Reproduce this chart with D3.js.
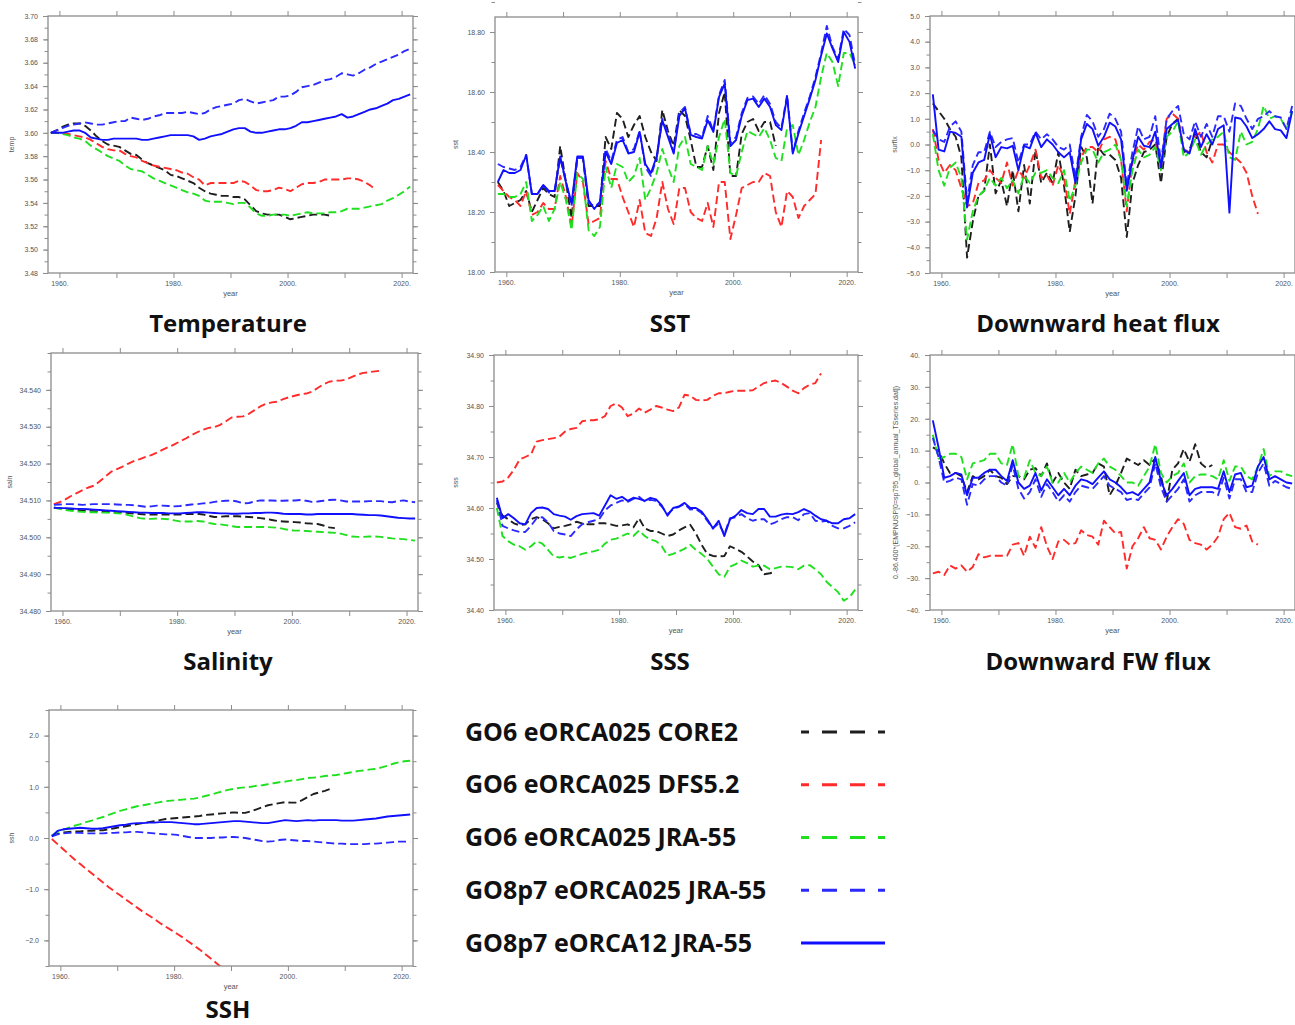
<!DOCTYPE html>
<html>
<head>
<meta charset="utf-8">
<script src="https://cdn.jsdelivr.net/npm/d3@7"></script>
<style>
  body { margin: 0; background: #fff; }
  svg { display: block; }
</style>
</head>
<body>
<script>
var WIDTH = 1295
  , HEIGHT = 1025

// annual means, one value per year from 1958
var years = [1958, 1959, 1960, 1961, 1962, 1963, 1964, 1965, 1966, 1967,
  1968, 1969, 1970, 1971, 1972, 1973, 1974, 1975, 1976, 1977,
  1978, 1979, 1980, 1981, 1982, 1983, 1984, 1985, 1986, 1987,
  1988, 1989, 1990, 1991, 1992, 1993, 1994, 1995, 1996, 1997,
  1998, 1999, 2000, 2001, 2002, 2003, 2004, 2005, 2006, 2007,
  2008, 2009, 2010, 2011, 2012, 2013, 2014, 2015, 2016, 2017,
  2018, 2019, 2020, 2021]

var yearDomain = [1958, 2022]
  , yearTicks = [1960, 1970, 1980, 1990, 2000, 2010, 2020]
  , yearLabels = [1960, 1980, 2000, 2020]

var seriesNames = ['GO6 eORCA025 CORE2', 'GO6 eORCA025 DFS5.2', 'GO6 eORCA025 JRA-55',
  'GO8p7 eORCA025 JRA-55', 'GO8p7 eORCA12 JRA-55']

var panelTitles = ['Temperature', 'SST', 'Downward heat flux', 'Salinity', 'SSS', 'Downward FW flux', 'SSH']
  , yTitles = ['temp', 'sst', 'surflx', 'saln', 'sss',
      '0.-86.400*(EMPNUSP[0=sp795_global_annual_TSseries.dat])', 'ssh']

// y tick labels per panel
var tempTicks = [3.48, 3.50, 3.52, 3.54, 3.56, 3.58, 3.60, 3.62, 3.64, 3.66, 3.68, 3.70]
  , sstTicks = [18.00, 18.20, 18.40, 18.60, 18.80]
  , heatTicks = [-5, -4, -3, -2, -1, 0, 1, 2, 3, 4, 5]
  , salnTicks = [34.48, 34.49, 34.50, 34.51, 34.52, 34.53, 34.54]
  , sssTicks = [34.40, 34.50, 34.60, 34.70, 34.80, 34.90]
  , fwTicks = [-40, -30, -20, -10, 0, 10, 20, 30, 40]
  , sshTicks = [-2, -1, 0, 1, 2]

// ---- Temperature
var tempCore2 = [3.600,3.602,3.605,3.607,3.608,3.608,3.606,3.602,3.597,3.593,
  3.590,3.589,3.588,3.585,3.582,3.581,3.577,3.574,3.572,3.570,
  3.568,3.564,3.563,3.561,3.559,3.557,3.553,3.550,3.548,3.547,
  3.546,3.546,3.545,3.545,3.543,3.538,3.533,3.531,3.530,3.530,
  3.530,3.528,3.526,3.527,3.528,3.529,3.530,3.530,3.530,3.529]
var tempDfs = [3.600,3.600,3.600,3.599,3.598,3.597,3.596,3.594,3.591,3.588,
  3.586,3.585,3.585,3.582,3.580,3.579,3.576,3.574,3.572,3.571,
  3.570,3.569,3.568,3.566,3.565,3.562,3.560,3.555,3.557,3.557,
  3.557,3.557,3.557,3.559,3.558,3.555,3.551,3.550,3.550,3.551,
  3.553,3.552,3.550,3.553,3.556,3.557,3.557,3.558,3.560,3.560,
  3.560,3.560,3.561,3.561,3.560,3.558,3.555,3.551]
var tempJra = [3.600,3.600,3.599,3.598,3.596,3.595,3.593,3.589,3.586,3.583,
  3.580,3.578,3.576,3.572,3.569,3.568,3.567,3.564,3.561,3.559,
  3.557,3.555,3.553,3.551,3.549,3.548,3.546,3.542,3.541,3.541,
  3.541,3.540,3.539,3.540,3.540,3.536,3.531,3.529,3.529,3.530,
  3.530,3.530,3.529,3.530,3.531,3.532,3.531,3.531,3.531,3.532,
  3.532,3.533,3.535,3.535,3.535,3.536,3.537,3.538,3.539,3.542,
  3.544,3.547,3.550,3.554]
var tempG8025 = [3.600,3.602,3.604,3.606,3.607,3.608,3.609,3.608,3.607,3.607,
  3.608,3.609,3.610,3.610,3.613,3.612,3.611,3.612,3.614,3.615,
  3.617,3.617,3.617,3.617,3.618,3.617,3.616,3.617,3.620,3.622,
  3.623,3.624,3.625,3.628,3.629,3.627,3.625,3.626,3.627,3.628,
  3.631,3.631,3.632,3.635,3.639,3.640,3.641,3.643,3.645,3.646,
  3.648,3.651,3.650,3.649,3.651,3.654,3.656,3.659,3.661,3.663,
  3.665,3.667,3.670,3.672]
var tempG812 = [3.600,3.600,3.600,3.601,3.602,3.602,3.600,3.596,3.595,3.594,
  3.594,3.595,3.595,3.595,3.595,3.595,3.594,3.594,3.595,3.596,
  3.597,3.598,3.598,3.598,3.598,3.597,3.594,3.595,3.597,3.598,
  3.599,3.601,3.603,3.604,3.604,3.601,3.600,3.600,3.601,3.602,
  3.603,3.603,3.604,3.606,3.609,3.609,3.610,3.611,3.612,3.613,
  3.614,3.616,3.613,3.614,3.616,3.618,3.620,3.621,3.623,3.625,
  3.628,3.629,3.631,3.633]

// ---- SST
var sstCore2 = [18.30,18.27,18.22,18.23,18.24,18.27,18.20,18.24,18.28,18.26,
  18.25,18.42,18.30,18.18,18.38,18.38,18.22,18.22,18.22,18.45,
  18.41,18.53,18.51,18.45,18.49,18.52,18.45,18.40,18.37,18.54,
  18.47,18.42,18.54,18.52,18.44,18.35,18.35,18.42,18.34,18.53,
  18.60,18.32,18.32,18.46,18.50,18.51,18.47,18.50,18.50,18.42]
var sstDfs = [18.29,18.27,18.25,18.24,18.22,18.27,18.19,18.20,18.23,18.21,
  18.21,18.32,18.25,18.15,18.33,18.30,18.16,18.17,18.18,18.37,
  18.31,18.31,18.25,18.20,18.15,18.24,18.13,18.12,18.18,18.30,
  18.21,18.16,18.28,18.28,18.20,18.18,18.17,18.23,18.15,18.30,
  18.30,18.11,18.19,18.28,18.29,18.30,18.30,18.33,18.32,18.20,
  18.15,18.27,18.25,18.18,18.22,18.24,18.26,18.44]
var sstJra = [18.26,18.26,18.25,18.25,18.26,18.30,18.17,18.19,18.22,18.17,
  18.21,18.30,18.24,18.14,18.33,18.31,18.14,18.12,18.15,18.35,
  18.28,18.36,18.35,18.30,18.32,18.38,18.24,18.28,18.33,18.41,
  18.35,18.30,18.42,18.45,18.36,18.35,18.34,18.42,18.36,18.45,
  18.51,18.33,18.32,18.40,18.47,18.46,18.45,18.48,18.44,18.38,
  18.37,18.48,18.49,18.39,18.44,18.50,18.55,18.65,18.73,18.70,
  18.62,18.73,18.73,18.69]
var sstG8025 = [18.36,18.35,18.345,18.34,18.35,18.39,18.26,18.26,18.29,18.265,
  18.27,18.38,18.30,18.22,18.38,18.38,18.23,18.22,18.23,18.41,
  18.37,18.44,18.45,18.40,18.41,18.47,18.35,18.32,18.38,18.51,
  18.46,18.40,18.53,18.55,18.46,18.46,18.45,18.52,18.47,18.59,
  18.64,18.43,18.45,18.53,18.58,18.585,18.56,18.59,18.56,18.50,
  18.48,18.59,18.40,18.47,18.53,18.585,18.65,18.73,18.82,18.75,
  18.71,18.81,18.79,18.69]
var sstG812 = [18.30,18.34,18.33,18.33,18.34,18.39,18.26,18.26,18.29,18.27,
  18.27,18.385,18.30,18.23,18.385,18.385,18.24,18.21,18.235,18.40,
  18.36,18.43,18.44,18.395,18.40,18.467,18.36,18.33,18.385,18.506,
  18.45,18.395,18.52,18.545,18.457,18.45,18.445,18.506,18.467,18.584,
  18.628,18.42,18.44,18.52,18.573,18.578,18.55,18.578,18.55,18.49,
  18.473,18.584,18.395,18.462,18.52,18.578,18.64,18.722,18.795,18.745,
  18.70,18.80,18.767,18.678]

// ---- Downward heat flux
var heatCore2 = [1.6,1.3,1.0,0.6,0.3,-0.5,-4.4,-3.0,-2.0,-1.8,
  0.0,-1.9,-1.4,-2.4,-1.0,-2.6,-0.8,-2.3,-0.2,-1.5,
  -1.1,-1.5,-0.3,-1.6,-3.4,-2.0,-0.1,-0.5,-2.3,-0.1,
  -0.4,-0.4,-0.6,-1.3,-3.6,-1.5,-0.8,-0.3,-0.2,0.0,
  -1.5,0.3,0.8,1.0,-0.3,-0.2,0.4,-0.3,-0.5,0.2]
var heatDfs = [0.6,-0.6,-1.1,-0.8,-1.0,-1.7,-2.4,-2.3,-1.5,-1.4,
  -1.0,-1.3,-1.5,-0.7,-1.6,-1.0,-1.3,-0.8,-0.2,-1.3,
  -1.2,-1.6,-0.8,-1.3,-2.7,-1.4,-0.5,-0.1,-0.1,-0.3,
  0.2,0.3,0.2,-0.6,-2.6,-0.7,0.0,-0.2,0.1,0.2,
  -0.9,1.0,1.2,1.0,-0.2,-0.3,0.3,0.5,-0.3,-0.7,
  0.0,0.0,-0.3,-0.5,-0.7,-1.1,-2.0,-2.7]
var heatJra = [0.4,-1.0,-1.6,-0.9,-0.7,-1.3,-3.7,-2.6,-2.0,-1.8,
  -1.3,-1.6,-1.3,-1.7,-1.4,-1.9,-1.2,-1.5,-1.1,-1.1,
  -1.0,-1.3,-1.5,-1.0,-2.2,-1.6,-0.7,-0.2,-0.2,-0.7,
  -0.3,-0.2,0.0,-0.6,-2.4,-1.0,-0.2,-0.5,-0.4,-0.1,
  -1.0,0.3,0.5,0.9,-0.5,-0.3,0.2,-0.4,0.0,0.2,
  0.3,0.5,-0.5,-0.6,0.5,0.0,0.1,0.6,1.5,1.0,
  1.1,1.0,0.6,1.3]
var heatG8025 = [0.55,0.2,0.1,0.7,0.9,0.5,-2.2,-0.8,-0.3,-0.3,
  0.5,-0.1,0.1,0.2,0.25,-0.7,0.0,0.0,0.5,0.2,
  0.4,0.2,-0.1,-0.2,0.0,-1.3,0.3,1.15,0.9,0.3,
  0.6,1.2,1.0,0.5,-1.6,-0.3,0.7,0.2,0.3,1.1,
  -0.7,1.0,1.3,1.5,0.4,0.2,0.9,0.3,0.8,0.3,
  1.1,1.1,0.5,1.6,1.5,1.0,0.6,1.0,1.1,1.3,
  1.1,1.05,0.6,1.5]
var heatG812 = [1.95,-0.2,-0.27,0.5,0.45,0.3,-2.45,-1.1,-0.7,-0.6,
  0.4,-0.5,-0.1,-0.15,-0.05,-1.0,-0.05,-0.15,0.45,-0.1,
  0.2,0.0,-0.3,-0.5,-0.3,-1.5,0.2,0.8,0.6,-0.05,
  0.3,0.85,0.7,0.2,-1.8,-0.6,0.3,-0.05,-0.1,0.5,
  -0.9,0.6,0.8,0.95,-0.2,-0.35,0.6,-0.1,0.4,0.0,
  0.6,0.75,-2.65,1.05,1.0,0.7,0.25,0.4,0.6,0.9,
  0.6,0.55,0.25,1.3]

// ---- Salinity
var salnCore2 = [34.5080,34.5079,34.5078,34.5076,34.5074,34.5073,34.5072,34.5071,34.5070,34.5070,
  34.5069,34.5069,34.5068,34.5066,34.5064,34.5063,34.5062,34.5062,34.5062,34.5062,
  34.5062,34.5062,34.5062,34.5063,34.5063,34.5064,34.5062,34.5058,34.5055,34.5056,
  34.5057,34.5057,34.5057,34.5056,34.5055,34.5054,34.5052,34.5050,34.5047,34.5044,
  34.5043,34.5042,34.5041,34.5040,34.5038,34.5037,34.5036,34.5032,34.5027,34.5025]
var salnDfs = [34.5090,34.5095,34.5103,34.5112,34.5120,34.5128,34.5135,34.5140,34.5152,34.5165,
  34.5178,34.5185,34.5192,34.5200,34.5207,34.5212,34.5218,34.5223,34.5230,34.5238,
  34.5245,34.5252,34.5260,34.5268,34.5277,34.5285,34.5292,34.5297,34.5299,34.5305,
  34.5315,34.5325,34.5327,34.5328,34.5335,34.5345,34.5355,34.5362,34.5366,34.5368,
  34.5375,34.5380,34.5384,34.5388,34.5390,34.5395,34.5405,34.5415,34.5422,34.5425,
  34.5425,34.5428,34.5435,34.5442,34.5446,34.5448,34.5450,34.5452]
var salnJra = [34.5080,34.5077,34.5074,34.5072,34.5070,34.5069,34.5068,34.5068,34.5067,34.5067,
  34.5066,34.5065,34.5064,34.5060,34.5056,34.5052,34.5050,34.5050,34.5051,34.5050,
  34.5049,34.5046,34.5043,34.5043,34.5043,34.5044,34.5043,34.5039,34.5036,34.5035,
  34.5033,34.5030,34.5028,34.5028,34.5028,34.5028,34.5028,34.5028,34.5027,34.5026,
  34.5023,34.5020,34.5018,34.5018,34.5017,34.5016,34.5015,34.5014,34.5013,34.5012,
  34.5010,34.5006,34.5002,34.5001,34.5001,34.5002,34.5002,34.5001,34.4999,34.4997,
  34.4996,34.4995,34.4993,34.4991]
var salnG8025 = [34.5088,34.5089,34.5090,34.5090,34.5089,34.5088,34.5089,34.5090,34.5090,34.5090,
  34.5090,34.5089,34.5088,34.5088,34.5087,34.5085,34.5083,34.5084,34.5086,34.5086,
  34.5085,34.5084,34.5085,34.5087,34.5089,34.5090,34.5092,34.5093,34.5096,34.5098,
  34.5099,34.5100,34.5097,34.5092,34.5093,34.5097,34.5100,34.5100,34.5100,34.5099,
  34.5099,34.5100,34.5100,34.5101,34.5099,34.5096,34.5097,34.5099,34.5101,34.5102,
  34.5100,34.5097,34.5097,34.5097,34.5097,34.5098,34.5098,34.5098,34.5096,34.5095,
  34.5098,34.5100,34.5097,34.5095]
var salnG812 = [34.5080,34.5079,34.5079,34.5078,34.5077,34.5077,34.5076,34.5075,34.5074,34.5073,
  34.5072,34.5071,34.5070,34.5069,34.5068,34.5067,34.5067,34.5066,34.5066,34.5066,
  34.5065,34.5065,34.5065,34.5066,34.5067,34.5068,34.5068,34.5067,34.5066,34.5065,
  34.5065,34.5064,34.5064,34.5065,34.5065,34.5066,34.5066,34.5067,34.5067,34.5066,
  34.5064,34.5063,34.5063,34.5063,34.5062,34.5062,34.5063,34.5063,34.5063,34.5063,
  34.5063,34.5063,34.5063,34.5062,34.5061,34.5060,34.5060,34.5059,34.5057,34.5055,
  34.5053,34.5052,34.5051,34.5051]

// ---- SSS
var sssCore2 = [34.610,34.585,34.578,34.570,34.566,34.568,34.578,34.582,34.578,34.570,
  34.560,34.563,34.565,34.568,34.573,34.570,34.568,34.568,34.570,34.570,
  34.568,34.565,34.566,34.568,34.562,34.580,34.560,34.555,34.555,34.550,
  34.545,34.548,34.556,34.562,34.567,34.550,34.528,34.510,34.506,34.505,
  34.506,34.525,34.520,34.514,34.505,34.495,34.488,34.470,34.472,34.475]
var sssDfs = [34.650,34.652,34.660,34.675,34.695,34.700,34.705,34.730,34.733,34.735,
  34.737,34.740,34.750,34.755,34.757,34.770,34.772,34.772,34.774,34.780,
  34.800,34.805,34.797,34.780,34.785,34.795,34.787,34.793,34.800,34.797,
  34.793,34.790,34.797,34.822,34.820,34.812,34.811,34.812,34.820,34.825,
  34.825,34.828,34.830,34.830,34.830,34.831,34.838,34.845,34.848,34.850,
  34.845,34.838,34.830,34.825,34.835,34.842,34.845,34.864]
var sssJra = [34.600,34.545,34.535,34.528,34.525,34.518,34.525,34.535,34.530,34.518,
  34.505,34.503,34.505,34.502,34.506,34.510,34.513,34.515,34.518,34.530,
  34.538,34.540,34.545,34.550,34.545,34.556,34.545,34.538,34.535,34.525,
  34.507,34.510,34.515,34.520,34.528,34.518,34.510,34.500,34.485,34.470,
  34.465,34.485,34.490,34.497,34.492,34.485,34.487,34.487,34.480,34.482,
  34.485,34.485,34.484,34.480,34.487,34.488,34.480,34.470,34.455,34.445,
  34.435,34.418,34.425,34.440]
var sssG8025 = [34.615,34.565,34.560,34.556,34.553,34.553,34.565,34.580,34.582,34.572,
  34.555,34.550,34.548,34.545,34.558,34.568,34.572,34.575,34.578,34.595,
  34.605,34.610,34.615,34.612,34.618,34.622,34.613,34.616,34.614,34.603,
  34.588,34.598,34.602,34.608,34.597,34.598,34.590,34.575,34.560,34.570,
  34.548,34.580,34.582,34.588,34.580,34.575,34.578,34.578,34.568,34.572,
  34.578,34.582,34.582,34.576,34.588,34.590,34.575,34.573,34.575,34.565,
  34.560,34.560,34.565,34.572]
var sssG812 = [34.620,34.580,34.588,34.580,34.570,34.568,34.590,34.600,34.601,34.598,
  34.588,34.585,34.583,34.577,34.584,34.588,34.589,34.590,34.585,34.605,
  34.625,34.618,34.622,34.614,34.620,34.618,34.614,34.620,34.617,34.605,
  34.585,34.600,34.603,34.610,34.600,34.600,34.593,34.578,34.560,34.575,
  34.545,34.578,34.585,34.596,34.590,34.588,34.598,34.598,34.583,34.583,
  34.587,34.589,34.588,34.592,34.598,34.593,34.585,34.578,34.575,34.570,
  34.570,34.578,34.580,34.588]

// ---- Downward FW flux
var fwCore2 = [11,10,6,3,3,2,-3,2,1,2,
  4,2,1.5,-0.5,2,2,1,4,4.5,2,
  6,0,3,0,-2,4,2,2.5,3,6,
  5,-4,-1,3,7.5,6.5,5.5,7,5.5,7.5,
  2,-6,4,6,10.5,6.5,12,6,4.5,5.5]
var fwDfs = [-28.5,-28,-29,-26,-27,-26,-28,-26.5,-22.5,-23.5,
  -23,-23,-23,-23,-19.5,-19,-23,-17,-20.5,-14,
  -20,-24,-18.5,-18,-19.5,-19,-15,-16.5,-17,-19.5,
  -12,-14,-16,-15.5,-27,-20,-17.5,-14,-17.5,-18,
  -21,-17,-14,-11.5,-13,-18,-19,-19.5,-21,-19.5,
  -17,-11.5,-9.5,-14,-14.5,-13.5,-18.5,-19.5]
var fwJra = [15,7.5,8,9,9,8,1,6,6.5,7,
  9,9,6,5.5,12,2,1.5,7,3,2,
  5,0,0,3,0,3,5,4,3,6,
  7.5,5,4,2,0,0,-1,2,5,12,
  3,0,2,3,6,0,2,2.5,2.5,2,
  1,7,0.5,5,5,2,1,5,10.5,2,
  3.5,3.5,2.5,2]
var fwG8025 = [14,8,0,0.5,1.5,1,-7,-0.5,-1,1,
  2,2,0,-1,5.5,-2,-5,-3,1,-4.5,
  -0.5,-3,-6,-4,-6,-3,-1,-1.5,-2,0,
  2,-1,-2,-3,-5.5,-5,-5.5,-3.5,-1.5,6,
  -1.5,-6,-4,-2,1,-6,-4,-3,-3,-3,
  -4,1.5,-5,1,1,-3,-3,3,6,-1,
  0.5,-0.5,-1.5,-2]
var fwG812 = [19.5,11,1.5,2,3,2.5,-4,1.5,1.5,3,
  4,4,2,0.5,7,0,-2,-1,3,-2.5,
  1,-1.5,-4,-2,-4,-1,1,0.5,-0.5,1.5,
  3.5,1,0,-1.5,-3.5,-3,-4,-2,0,8,
  0.5,-4,-2,0.5,3,-4,-2,-1.5,-1.5,-1.5,
  -2,3.5,-3,2.5,3,-1.5,-1,5,8,1,
  2,1,0,-0.3]

// ---- SSH
var sshCore2 = [0.05,0.08,0.11,0.12,0.13,0.13,0.14,0.14,0.15,0.15,
  0.17,0.19,0.21,0.23,0.25,0.27,0.29,0.31,0.33,0.35,
  0.37,0.38,0.39,0.40,0.41,0.42,0.43,0.45,0.46,0.47,
  0.48,0.49,0.50,0.49,0.49,0.52,0.56,0.60,0.64,0.66,
  0.68,0.70,0.69,0.69,0.74,0.80,0.86,0.89,0.92,0.96]
var sshDfs = [-0.02,-0.12,-0.22,-0.32,-0.42,-0.51,-0.60,-0.69,-0.78,-0.87,
  -0.96,-1.04,-1.12,-1.20,-1.28,-1.36,-1.44,-1.51,-1.58,-1.66,
  -1.73,-1.80,-1.87,-1.94,-2.02,-2.10,-2.18,-2.27,-2.36,-2.45,
  -2.54]
var sshJra = [0.05,0.12,0.16,0.20,0.24,0.27,0.31,0.34,0.38,0.41,
  0.45,0.49,0.53,0.56,0.59,0.62,0.64,0.66,0.68,0.70,
  0.72,0.73,0.74,0.75,0.76,0.77,0.79,0.82,0.85,0.88,
  0.91,0.94,0.96,0.98,0.99,1.00,1.02,1.03,1.05,1.07,
  1.09,1.10,1.12,1.13,1.15,1.17,1.18,1.19,1.21,1.22,
  1.23,1.25,1.27,1.29,1.31,1.32,1.34,1.35,1.38,1.41,
  1.45,1.48,1.50,1.51]
var sshG8025 = [0.03,0.07,0.09,0.10,0.10,0.10,0.09,0.09,0.09,0.09,
  0.10,0.10,0.11,0.11,0.12,0.12,0.11,0.10,0.09,0.08,
  0.07,0.07,0.06,0.04,0.02,0.00,0.00,0.00,0.00,0.01,
  0.01,0.02,0.02,0.01,0.00,-0.02,-0.04,-0.06,-0.07,-0.06,
  -0.04,-0.03,-0.04,-0.05,-0.06,-0.06,-0.07,-0.08,-0.09,-0.10,
  -0.11,-0.11,-0.12,-0.12,-0.12,-0.12,-0.11,-0.11,-0.10,-0.09,
  -0.08,-0.07,-0.07,-0.07]
var sshG812 = [0.03,0.14,0.17,0.18,0.19,0.20,0.19,0.18,0.18,0.19,
  0.21,0.23,0.25,0.26,0.28,0.29,0.29,0.30,0.30,0.31,
  0.31,0.31,0.30,0.29,0.28,0.27,0.27,0.28,0.29,0.30,
  0.31,0.32,0.33,0.33,0.32,0.31,0.30,0.29,0.29,0.31,
  0.33,0.35,0.34,0.33,0.34,0.35,0.34,0.35,0.35,0.35,
  0.35,0.34,0.34,0.34,0.35,0.36,0.37,0.38,0.40,0.42,
  0.43,0.44,0.45,0.46]

var seriesColors = ['#1e1e1e', '#ff2a2a', '#1fe01f', '#2a2aff', '#1010ff']
  , seriesDashed = [true, true, true, true, false]

var panels = [
    { box: [48, 16, 413, 273], domain: [3.48, 3.70], ticks: tempTicks, fmt: d3.format('.2f')
    , lines: [tempCore2, tempDfs, tempJra, tempG8025, tempG812], titleX: 228, titleY: 332, ylabX: 14 }
  , { box: [495, 17, 858, 272], domain: [18.00, 18.85], ticks: sstTicks, fmt: d3.format('.2f')
    , lines: [sstCore2, sstDfs, sstJra, sstG8025, sstG812], titleX: 670, titleY: 332, ylabX: 458 }
  , { box: [930, 16, 1295, 273], domain: [-5, 5], ticks: heatTicks, fmt: d3.format('.1f')
    , lines: [heatCore2, heatDfs, heatJra, heatG8025, heatG812], titleX: 1098, titleY: 332, ylabX: 897 }
  , { box: [51, 353, 418, 611], domain: [34.48, 34.55], ticks: salnTicks, fmt: d3.format('.3f')
    , lines: [salnCore2, salnDfs, salnJra, salnG8025, salnG812], titleX: 228, titleY: 670, ylabX: 12 }
  , { box: [494, 355, 858, 610], domain: [34.40, 34.90], ticks: sssTicks, fmt: d3.format('.2f')
    , lines: [sssCore2, sssDfs, sssJra, sssG8025, sssG812], titleX: 670, titleY: 670, ylabX: 458 }
  , { box: [930, 355, 1295, 610], domain: [-40, 40], ticks: fwTicks, fmt: function(d) { return d3.format('d')(d) + '.' }
    , lines: [fwCore2, fwDfs, fwJra, fwG8025, fwG812], titleX: 1098, titleY: 670, ylabX: 898 }
  , { box: [49, 710, 413, 966], domain: [-2.5, 2.5], ticks: sshTicks, fmt: d3.format('.1f')
    , lines: [sshCore2, sshDfs, sshJra, sshG8025, sshG812], titleX: 228, titleY: 1018, ylabX: 14 }
]

var svg = d3.select('body')
  .append('svg')
  .attr('width', WIDTH)
  .attr('height', HEIGHT)

panels.forEach(drawPanel)
drawLegend()

function drawPanel(p, idx) {
  var left = p.box[0]
    , top = p.box[1]
    , right = p.box[2]
    , bottom = p.box[3]
    , step = p.ticks[1] - p.ticks[0]
    , minor = d3.range(p.domain[0], p.domain[1] + step / 4, step / 2)

  var x = d3.scaleLinear().domain(yearDomain).range([left, right])
    , y = d3.scaleLinear().domain(p.domain).range([bottom, top])

  var g = svg.append('g').attr('class', 'panel')

  g.append('clipPath')
    .attr('id', 'clip' + idx)
    .append('rect')
      .attr('x', left)
      .attr('y', top)
      .attr('width', right - left)
      .attr('height', bottom - top)

  // points sit at mid-year
  var line = d3.line()
    .x(function(d) { return x(d[0] + 0.5) })
    .y(function(d) { return y(d[1]) })

  var plot = g.append('g').attr('clip-path', 'url(#clip' + idx + ')')

  p.lines.forEach(function(vals, k) {
    plot.append('path')
      .datum(vals.map(function(v, i) { return [years[i], v] }))
      .attr('d', line)
      .attr('fill', 'none')
      .attr('stroke', seriesColors[k])
      .attr('stroke-width', 1.9)
      .attr('stroke-linejoin', 'round')
      .attr('stroke-dasharray', seriesDashed[k] ? '8,4' : null)
  })

  g.append('rect')
    .attr('x', left)
    .attr('y', top)
    .attr('width', right - left)
    .attr('height', bottom - top)
    .attr('fill', 'none')
    .attr('stroke', '#8c8c8c')
    .attr('stroke-width', 1.3)

  axis(d3.axisBottom(x).tickValues(yearTicks).tickSize(5).tickPadding(3)
    .tickFormat(function(d) { return yearLabels.indexOf(d) >= 0 ? d + '.' : '' }), 0, bottom)
  axis(d3.axisTop(x).tickValues(yearTicks).tickSize(5).tickFormat(''), 0, top)
  axis(d3.axisLeft(y).tickValues(minor).tickSize(3.5).tickFormat(''), left, 0)
  axis(d3.axisLeft(y).tickValues(p.ticks).tickSize(5).tickPadding(5).tickFormat(p.fmt), left, 0)
  axis(d3.axisRight(y).tickValues(minor).tickSize(3.5).tickFormat(''), right, 0)
  axis(d3.axisRight(y).tickValues(p.ticks).tickSize(5).tickFormat(''), right, 0)

  g.append('text')
    .attr('x', (left + right) / 2)
    .attr('y', bottom + 23)
    .attr('text-anchor', 'middle')
    .attr('font-family', 'Liberation Sans, Arial, sans-serif')
    .attr('font-size', 7.5)
    .attr('fill', '#555')
    .text('year')

  g.append('text')
    .attr('transform', 'translate(' + p.ylabX + ',' + (top + bottom) / 2 + ') rotate(-90)')
    .attr('text-anchor', 'middle')
    .attr('font-family', 'Liberation Sans, Arial, sans-serif')
    .attr('font-size', 7)
    .attr('fill', '#555')
    .text(yTitles[idx])

  g.append('text')
    .attr('x', p.titleX)
    .attr('y', p.titleY)
    .attr('text-anchor', 'middle')
    .attr('font-family', 'Open Sans, sans-serif')
    .attr('font-weight', 700)
    .attr('font-size', 24)
    .attr('fill', '#111')
    .text(panelTitles[idx])

  function axis(gen, tx, ty) {
    var a = g.append('g')
      .attr('transform', 'translate(' + tx + ',' + ty + ')')
      .call(gen)

    a.select('.domain').remove()
    a.selectAll('line')
      .attr('stroke', '#8c8c8c')
      .attr('stroke-width', 1)
    a.selectAll('text')
      .attr('font-family', 'Liberation Sans, Arial, sans-serif')
      .attr('font-size', 7)
      .attr('fill', '#555')
  }
}

function drawLegend() {
  var rowY = d3.scalePoint()
    .domain(seriesNames)
    .range([732, 943])

  var g = svg.append('g').attr('class', 'legend')

  var rows = g.selectAll('.row')
    .data(seriesNames)
    .enter()
      .append('g')
      .attr('class', 'row')
      .attr('transform', function(d) { return 'translate(0,' + rowY(d) + ')' })

  rows.append('text')
    .attr('x', 465)
    .attr('y', 8.5)
    .attr('font-family', 'Open Sans, sans-serif')
    .attr('font-weight', 700)
    .attr('font-size', 25)
    .attr('fill', '#111')
    .text(function(d) { return d })

  rows.append('line')
    .attr('x1', 801)
    .attr('x2', 885)
    .attr('y1', 0)
    .attr('y2', 0)
    .attr('stroke', function(d, i) { return seriesColors[i] })
    .attr('stroke-width', 3)
    .attr('stroke-dasharray', function(d, i) { return seriesDashed[i] ? '15,13' : null })
    .attr('stroke-dashoffset', 7)
}
</script>
</body>
</html>
